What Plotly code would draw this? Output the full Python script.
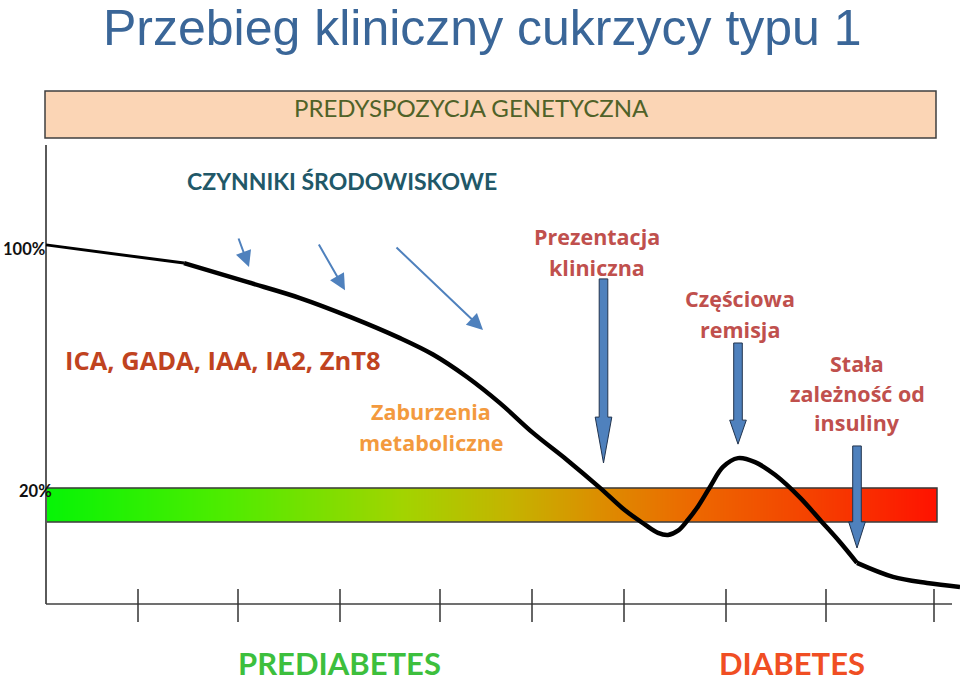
import numpy as np
import plotly.graph_objects as go

# ---------------- data ----------------
# time (arbitrary units along the horizontal axis) and beta-cell function (%)
pre_t = [46, 184]
pre_v = [100.7, 94.7]
main_t = [184, 247, 300, 350, 400, 433, 467, 500, 533, 567, 600, 625, 645,
          658, 668, 678, 688, 698, 710, 723, 738, 755, 775, 800, 821, 839, 857]
main_v = [94.7, 88.5, 83.2, 77.0, 70.0, 64.6, 57.2, 48.6, 38.8, 29.9, 20.7,
          13.3, 8.6, 5.9, 5.2, 6.6, 10.2, 14.6, 21.0, 27.6, 30.5, 29.2, 25.0,
          17.5, 9.8, 3.2, -4.0]
tail_t = [857, 893, 927, 960]
tail_v = [-4.0, -8.6, -10.6, -11.9]

tick_t = [138, 238, 340, 440, 532, 624, 726, 826, 934]
level_vals = [100, 20]
level_labels = ["100%", "20%"]

bar_start, bar_end = 46, 937
bar_low, bar_high = 9.5, 20.7

axis_t0, axis_t1 = 46, 952
axis_y = -17.53
y_axis_top = 133.6

# event arrows: (name, time, top, neck, tip)
events = [
    ("Prezentacja kliniczna", 603.5, 89.5, 44.0, 28.9),
    ("Częściowa remisja", 738, 68.4, 43.0, 35.1),
    ("Stała zależność od insuliny", 857, 34.5, 9.5, 0.9),
]

# environmental factor arrows: (tail_t, tail_v, head_t, head_v)
env_arrows = [
    (238, 103.3, 249, 93.4),
    (318, 101.3, 345, 85.8),
    (395, 100.3, 483, 72.7),
]

FONT = "Lato"
FONT2 = "Open Sans"
BLUE = "#4f81bd"

fig = go.Figure()

# gradient bar
gx = np.linspace(bar_start, bar_end, 301)
gz = [list((gx[:-1] + gx[1:]) / 2)]
fig.add_trace(go.Heatmap(
    x=gx, y=[bar_low, bar_high], z=gz, zsmooth="best", showscale=False,
    hoverinfo="skip",
    colorscale=[[0.0, "#06f406"], [0.2, "#4eec00"], [0.4, "#a2d400"],
                [0.52, "#c4b400"], [0.62, "#dc8e00"], [0.72, "#ec6a00"],
                [0.85, "#f44400"], [1.0, "#ff1200"]],
    zmin=bar_start, zmax=bar_end))
fig.add_trace(go.Scatter(
    x=[bar_start, bar_end, bar_end, bar_start, bar_start],
    y=[bar_low, bar_low, bar_high, bar_high, bar_low],
    mode="lines", line=dict(color="#3a3a3a", width=1.5), hoverinfo="skip"))

# axes
fig.add_trace(go.Scatter(x=[axis_t0, axis_t0], y=[y_axis_top, axis_y], mode="lines",
                         line=dict(color="#5a5a5a", width=2), hoverinfo="skip"))
fig.add_trace(go.Scatter(x=[axis_t0, axis_t1], y=[axis_y, axis_y], mode="lines",
                         line=dict(color="#404040", width=1.5), hoverinfo="skip"))
tx, ty = [], []
for t in tick_t:
    tx += [t, t, None]
    ty += [axis_y + 4.9, axis_y - 5.9, None]
fig.add_trace(go.Scatter(x=tx, y=ty, mode="lines",
                         line=dict(color="#333333", width=1.5), hoverinfo="skip"))

# curve
fig.add_trace(go.Scatter(x=pre_t, y=pre_v, mode="lines",
                         line=dict(color="black", width=3), hoverinfo="skip"))
fig.add_trace(go.Scatter(x=main_t, y=main_v, mode="lines",
                         line=dict(color="black", width=4.5, shape="spline", smoothing=1.0),
                         hoverinfo="skip"))
fig.add_trace(go.Scatter(x=tail_t, y=tail_v, mode="lines",
                         line=dict(color="black", width=4.5, shape="spline", smoothing=1.0),
                         hoverinfo="skip"))

# block arrows
for name, xc, top, neck, tip in events:
    hs, hh = 4.3, 8.3
    xs = [xc - hs, xc + hs, xc + hs, xc + hh, xc, xc - hh, xc - hs, xc - hs]
    ys = [top, top, neck, neck, tip, neck, neck, top]
    fig.add_trace(go.Scatter(x=xs, y=ys, mode="lines", fill="toself",
                             fillcolor=BLUE, line=dict(color="#22344e", width=1),
                             hoverinfo="skip", name=name))

annotations = []
for (t0, v0, t1, v1) in env_arrows:
    annotations.append(dict(x=t1, y=v1, ax=t0, ay=v0, xref="x", yref="y",
                            axref="x", ayref="y", text="", showarrow=True,
                            arrowhead=2, arrowsize=1.6, arrowwidth=2,
                            arrowcolor=BLUE))


def txt(x, y, s, size, color, weight="normal", family=FONT, xanchor="center"):
    annotations.append(dict(x=x, y=y, xref="x", yref="y", text=s, showarrow=False,
                            xanchor=xanchor, yanchor="middle",
                            font=dict(family=family, size=size, color=color,
                                      weight=weight)))


txt(482, 172.2, "Przebieg kliniczny cukrzycy typu 1", 50, "#3a6698",
    family="Liberation Sans")
txt(471, 145.8, "PREDYSPOZYCJA GENETYCZNA", 24, "#4f6228")
txt(342, 121.7, "CZYNNIKI ŚRODOWISKOWE", 23, "#215868", weight="bold")
txt(223, 62.8, "ICA, GADA, IAA, IA2, ZnT8", 25.5, "#c0431f", weight="bold", family=FONT2)
ORANGE = "#f39a3e"
txt(431, 45.7, "Zaburzenia", 21.5, ORANGE, weight="bold", family=FONT2)
txt(431, 35.8, "metaboliczne", 21.5, ORANGE, weight="bold", family=FONT2)
RED = "#c0504d"
txt(597, 103.3, "Prezentacja", 21.5, RED, weight="bold", family=FONT2)
txt(597, 93.4, "kliniczna", 21.5, RED, weight="bold", family=FONT2)
txt(740, 82.9, "Częściowa", 21.5, RED, weight="bold", family=FONT2)
txt(740, 73.0, "remisja", 21.5, RED, weight="bold", family=FONT2)
txt(857, 61.8, "Stała", 21.5, RED, weight="bold", family=FONT2)
txt(857, 51.9, "zależność od", 21.5, RED, weight="bold", family=FONT2)
txt(857, 42.1, "insuliny", 21.5, RED, weight="bold", family=FONT2)
txt(339, -36.9, "PREDIABETES", 31, "#3dbf3d", weight="bold")
txt(792, -36.9, "DIABETES", 31, "#f04e23", weight="bold")
txt(47, level_vals[0] - 0.7, level_labels[0], 16.5, "#111111", weight="bold", xanchor="right")
txt(35, level_vals[1] - 0.3, level_labels[1], 16.5, "#111111", weight="bold")

shapes = [dict(type="rect", xref="x", yref="y", x0=45, x1=936, y0=135.9, y1=151.4,
               fillcolor="#fbd5b5", line=dict(color="#3f3f3f", width=1.5),
               layer="below")]

fig.update_layout(
    width=960, height=682, margin=dict(l=0, r=0, t=0, b=0),
    paper_bgcolor="white", plot_bgcolor="white", showlegend=False,
    xaxis=dict(range=[0, 960], visible=False, fixedrange=True),
    yaxis=dict(range=[-43.21, 181.32], visible=False, fixedrange=True),
    annotations=annotations, shapes=shapes,
)

fig.write_html("out.html", config={"displayModeBar": False},
               post_script="document.body.style.margin='0';document.body.style.overflow='hidden';")
